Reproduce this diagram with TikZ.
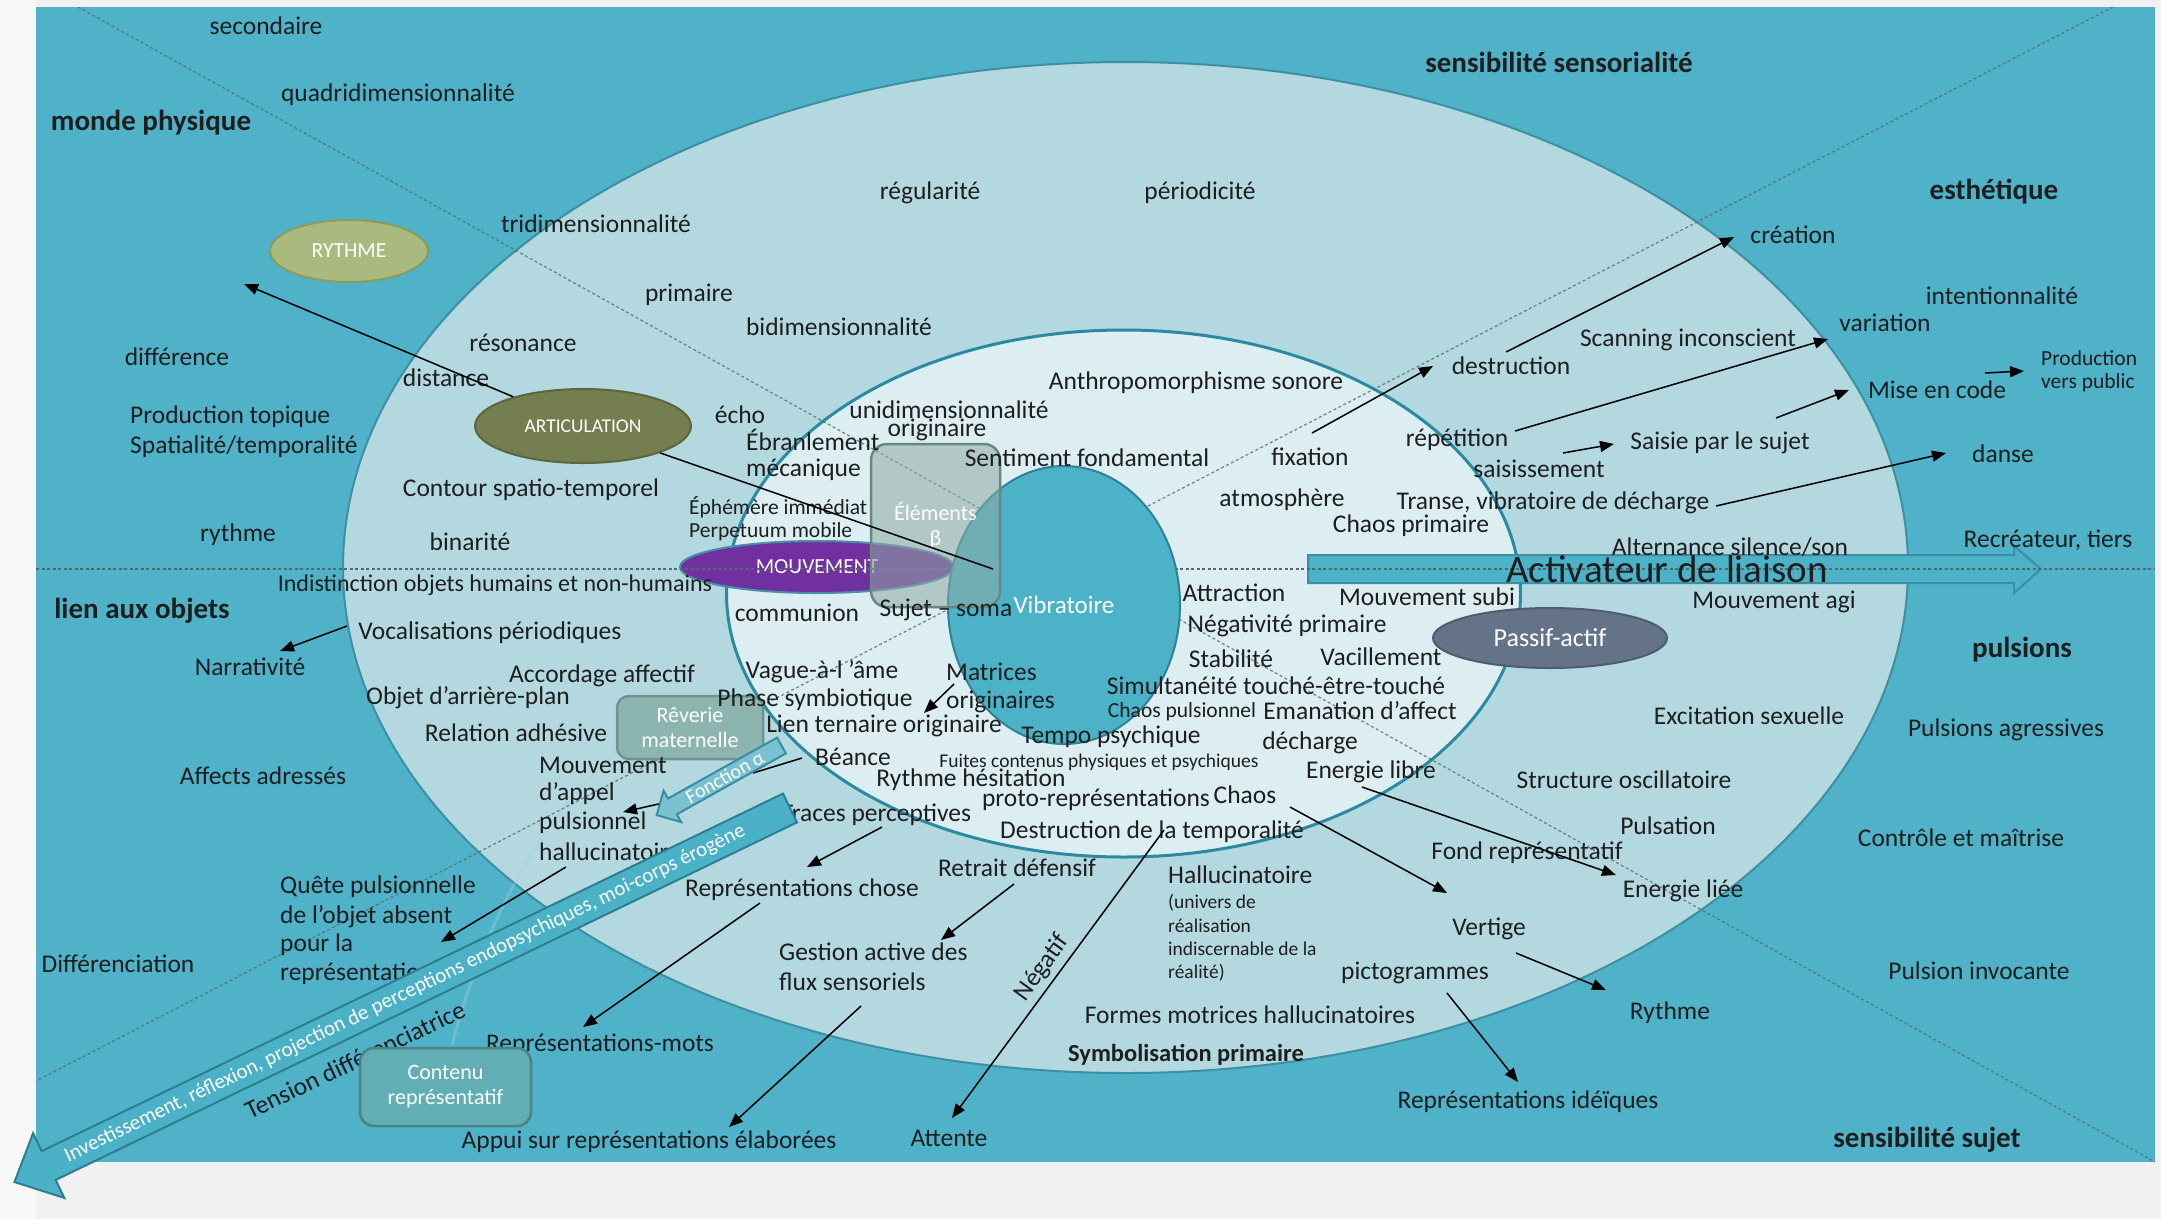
\documentclass[tikz,border=0pt]{standalone}
\usepackage{fontspec}
\setmainfont{Carlito}
\usetikzlibrary{arrows.meta,shapes.geometric}
\definecolor{pagegray}{HTML}{F1F1F1}
\definecolor{pagewhite}{HTML}{F8F8F8}
\definecolor{bgteal}{HTML}{4FB2C8}
\definecolor{outerfill}{HTML}{B3D8DF}
\definecolor{outerdraw}{HTML}{3D8FA2}
\definecolor{midfill}{HTML}{DCEEF2}
\definecolor{middraw}{HTML}{2C8AA0}
\definecolor{vibfill}{HTML}{4BB2C8}
\definecolor{vibdraw}{HTML}{2F8195}
\definecolor{txtc}{HTML}{1E1E1E}
\definecolor{guidec}{HTML}{55666C}
\definecolor{arcc}{HTML}{A6D2DA}
\definecolor{rythfill}{HTML}{AABA7E}
\definecolor{rythdraw}{HTML}{8C9A5B}
\definecolor{artfill}{HTML}{757E50}
\definecolor{artdraw}{HTML}{5D653E}
\definecolor{mouvfill}{HTML}{7030A0}
\definecolor{mouvdraw}{HTML}{4A8EA5}
\definecolor{pasfill}{HTML}{647387}
\definecolor{pasdraw}{HTML}{505C6D}
\definecolor{elemfill}{HTML}{8FAAA4}
\definecolor{elemdraw}{HTML}{6A8780}
\definecolor{revfill}{HTML}{8CB5AF}
\definecolor{revdraw}{HTML}{6D958F}
\definecolor{contfill}{HTML}{62AEB5}
\definecolor{contdraw}{HTML}{4E8182}
\definecolor{invfill}{HTML}{4BB1C7}
\definecolor{invdraw}{HTML}{2E7E92}
\definecolor{fonfill}{HTML}{7AC1D2}
\definecolor{fondraw}{HTML}{3A8DA1}
\definecolor{actfill}{HTML}{4BB2C8}
\definecolor{actdraw}{HTML}{3A8FA4}
\begin{document}
\begin{tikzpicture}[x=1pt,y=-1pt,
  every node/.style={inner sep=0pt,text=txtc},
  bodytxt/.style={font=\fontsize{25.5}{30}\selectfont},
  smalltxt/.style={font=\fontsize{21.5}{25}\selectfont},
  tinytxt/.style={font=\fontsize{19.5}{23}\selectfont},
  headtxt/.style={font=\fontsize{29}{34}\selectfont\bfseries},
  arr/.style={draw=black,line width=1.5pt,-{Triangle[length=14pt,width=11pt]}},
  plainline/.style={draw=black,line width=1.5pt},
  guide/.style={draw=guidec,line width=1.3pt,dash pattern=on 3pt off 2.5pt},
  blob/.style={ellipse,line width=2pt,text=white},
  boxnode/.style={rectangle,line width=2.5pt,text=white,align=center}]
\useasboundingbox (0,0) rectangle (2161,1219);
\fill[pagegray] (0,0) rectangle (2161,1219);
\fill[pagewhite] (0,0) rectangle (36,1219);
\fill[bgteal] (36,7) rectangle (2155,1162);
% big ellipses
\draw[outerdraw,fill=outerfill,line width=2pt] (1125.5,567.5) ellipse [x radius=782.5pt,y radius=505.5pt];
\draw[middraw,fill=midfill,line width=3pt] (1123.5,593.5) ellipse [x radius=397pt,y radius=263.5pt];
% faint arc
\draw[arcc,line width=3pt,opacity=0.35] (452,1045) .. controls (490,900) and (560,790) .. (640,735);
% mouvement and activateur
\node[blob,fill=mouvfill,draw=mouvdraw,minimum width=274pt,minimum height=52pt,font=\fontsize{21.5}{25}\selectfont] (mouv) at (817,567) {MOUVEMENT};
\filldraw[fill=actfill,draw=actdraw,line width=2pt] (1308,555) -- (2014,555) -- (2014,546) -- (2041,569) -- (2014,593) -- (2014,583) -- (1308,583) -- cycle;
% guide lines
\begin{scope}
\clip (36,7) rectangle (2155,1162);
\draw[guide] (36,569) -- (2155,569);
\draw[guide,opacity=0.75] (78,7) -- (2155,1162);
\draw[guide,opacity=0.75] (2113,7) -- (36,1081);
\end{scope}
% shapes
\node[blob,fill=vibfill,draw=vibdraw,minimum width=232pt,minimum height=278pt,font=\fontsize{25}{30}\selectfont] (vib) at (1064,605) {Vibratoire};
\node[blob,fill=rythfill,draw=rythdraw,minimum width=158pt,minimum height=62pt,font=\fontsize{21.5}{25}\selectfont] (ryth) at (349,251) {RYTHME};
\node[blob,fill=artfill,draw=artdraw,minimum width=216pt,minimum height=74pt,font=\fontsize{19.5}{23}\selectfont] (artic) at (583,426) {ARTICULATION};
\node[blob,fill=pasfill,draw=pasdraw,minimum width=234pt,minimum height=60pt,font=\fontsize{26}{30}\selectfont] (passif) at (1550,638) {Passif-actif};
\node[boxnode,rounded corners=16pt,fill=elemfill,fill opacity=0.55,text opacity=1,draw=elemdraw,minimum width=129pt,minimum height=163pt,font=\fontsize{22}{25}\selectfont] (elem) at (935.5,525.5) {Éléments\\β};
\node[boxnode,rounded corners=12pt,fill=revfill,draw=revdraw,minimum width=146pt,minimum height=63pt,font=\fontsize{22}{25}\selectfont] (reverie) at (690,727.5) {Rêverie\\maternelle};
% headers
\node[headtxt] (hmonde) at (151,123) {monde physique};
\node[headtxt] (hsens) at (1559,62) {sensibilité sensorialité};
\node[headtxt] (hesth) at (1994,192) {esthétique};
\node[headtxt] (hlien) at (142,611) {lien aux objets};
\node[headtxt] (hpuls) at (2022,650) {pulsions};
\node[headtxt] (hsujet) at (1927,1140) {sensibilité sujet};
% texts
\node[bodytxt] (secondaire) at (266,26) {secondaire};
\node[bodytxt] (quadri) at (398,95) {quadridimensionnalité};
\node[bodytxt] (tridi) at (596,224) {tridimensionnalité};
\node[bodytxt] (regul) at (930,193) {régularité};
\node[bodytxt] (period) at (1200,193) {périodicité};
\node[bodytxt] (primaire) at (689,295) {primaire};
\node[bodytxt] (bidi) at (839,327) {bidimensionnalité};
\node[bodytxt] (difference) at (177,357) {différence};
\node[bodytxt] (resonance) at (523,343) {résonance};
\node[bodytxt] (distance) at (446,378) {distance};
\node[bodytxt,anchor=west] (prodtop) at (130,417) {Production topique};
\node[bodytxt,anchor=west] (spatial) at (130,447) {Spatialité/temporalité};
\node[bodytxt] (echo) at (740,415) {écho};
\node[bodytxt] (unidim) at (949,410) {unidimensionnalité};
\node[bodytxt] (originaire) at (937,430) {originaire};
\node[bodytxt,anchor=west] (ebranl) at (746,440) {Ébranlement};
\node[bodytxt,anchor=west] (mecan) at (746,470) {mécanique};
\node[bodytxt] (anthropo) at (1196,383) {Anthropomorphisme sonore};
\node[bodytxt] (sentiment) at (1087,458) {Sentiment fondamental};
\node[bodytxt] (contour) at (531,490) {Contour spatio-temporel};
\node[smalltxt,anchor=west] (ephem) at (689,507) {Éphémère immédiat};
\node[smalltxt,anchor=west] (perpet) at (689,532) {Perpetuum mobile};
\node[bodytxt] (binarite) at (470,542) {binarité};
\node[bodytxt] (rythme) at (238,535) {rythme};
\node[font=\fontsize{24}{28}\selectfont] (indist) at (495,585) {Indistinction objets humains et non-humains};
\node[bodytxt] (communion) at (797,613) {communion};
\node[bodytxt] (sujetsoma) at (946,610) {Sujet – soma};
\node[bodytxt] (vocal) at (490,633) {Vocalisations périodiques};
\node[bodytxt] (narrat) at (250,667) {Narrativité};
\node[bodytxt] (accord) at (602,676) {Accordage affectif};
\node[bodytxt] (objet) at (468,698) {Objet d’arrière-plan};
\node[bodytxt] (relation) at (516,733) {Relation adhésive};
\node[bodytxt] (affects) at (263,776) {Affects adressés};
\node[bodytxt] (vague) at (822,672) {Vague-à-l ’âme};
\node[bodytxt,anchor=west] (matrices) at (946,672) {Matrices};
\node[bodytxt,anchor=west] (originaires) at (946,702) {originaires};
\node[bodytxt] (phase) at (815,700) {Phase symbiotique};
\node[bodytxt] (lien) at (884,726) {Lien ternaire originaire};
\node[bodytxt] (beance) at (853,757) {Béance};
\node[bodytxt,anchor=west] (mouvapp1) at (539,765) {Mouvement};
\node[bodytxt,anchor=west] (mouvapp2) at (539,794) {d’appel};
\node[bodytxt,anchor=west] (mouvapp3) at (539,823) {pulsionnel};
\node[bodytxt,anchor=west] (mouvapp4) at (539,852) {hallucinatoire};
\node[bodytxt] (traces) at (876,815) {Traces perceptives};
\node[bodytxt] (reprchose) at (802,890) {Représentations chose};
\node[bodytxt,anchor=west] (quete1) at (280,887) {Quête pulsionnelle};
\node[bodytxt,anchor=west] (quete2) at (280,917) {de l’objet absent};
\node[bodytxt,anchor=west] (quete3) at (280,945) {pour la};
\node[bodytxt,anchor=west] (quete4) at (280,974) {représentation};
\node[bodytxt] (differenc) at (118,964) {Différenciation};
\node[bodytxt,rotate=25.5] (tension) at (355,1060) {Tension différenciatrice};
\node[bodytxt] (reprmots) at (600,1045) {Représentations-mots};
\node[bodytxt] (appui) at (649,1142) {Appui sur représentations élaborées};
\node[bodytxt,anchor=west] (gestion1) at (779,952) {Gestion active des};
\node[bodytxt,anchor=west] (gestion2) at (779,982) {flux sensoriels};
\node[bodytxt] (retrait) at (1017,868) {Retrait défensif};
\node[bodytxt] (attente) at (949,1138) {Attente};
\node[bodytxt,rotate=54] (negatif) at (1042,968) {Négatif};
\node[font=\fontsize{24.5}{29}\selectfont\bfseries] (symbol) at (1186,1055) {Symbolisation primaire};
\node[bodytxt] (formes) at (1250,1015) {Formes motrices hallucinatoires};
\node[bodytxt,anchor=west] (halluc) at (1168,875) {Hallucinatoire};
\node[tinytxt,anchor=west] (hsub1) at (1168,903) {(univers de};
\node[tinytxt,anchor=west] (hsub2) at (1168,926) {réalisation};
\node[tinytxt,anchor=west] (hsub3) at (1168,949) {indiscernable de la};
\node[tinytxt,anchor=west] (hsub4) at (1168,973) {réalité)};
\node[bodytxt] (destrtemp) at (1152,832) {Destruction de la temporalité};
\node[bodytxt] (rythmehes) at (971,780) {Rythme hésitation};
\node[bodytxt] (proto) at (1096,800) {proto-représentations};
\node[bodytxt] (chaos) at (1245,795) {Chaos};
\node[tinytxt] (fuites) at (1099,762) {Fuites contenus physiques et psychiques};
\node[bodytxt] (tempo) at (1111,737) {Tempo psychique};
\node[smalltxt] (chaospuls) at (1182,712) {Chaos pulsionnel};
\node[bodytxt] (emanation) at (1360,711) {Emanation d’affect};
\node[bodytxt] (simult) at (1276,686) {Simultanéité touché-être-touché};
\node[bodytxt] (stabilite) at (1231,659) {Stabilité};
\node[bodytxt] (vacill) at (1381,657) {Vacillement};
\node[bodytxt] (attraction) at (1234,593) {Attraction};
\node[bodytxt] (negprim) at (1287,626) {Négativité primaire};
\node[bodytxt] (mouvsubi) at (1427,597) {Mouvement subi};
\node[bodytxt] (decharge) at (1310,743) {décharge};
\node[bodytxt] (enlibre) at (1371,772) {Energie libre};
\node[bodytxt] (fond) at (1527,853) {Fond représentatif};
\node[bodytxt] (enliee) at (1683,891) {Energie liée};
\node[bodytxt] (vertige) at (1489,929) {Vertige};
\node[bodytxt] (picto) at (1415,973) {pictogrammes};
\node[bodytxt] (rythme2) at (1670,1013) {Rythme};
\node[bodytxt] (reprid) at (1528,1102) {Représentations idéïques};
\node[bodytxt] (pulsinv) at (1979,971) {Pulsion invocante};
\node[bodytxt] (controle) at (1961,838) {Contrôle et maîtrise};
\node[bodytxt] (pulsation) at (1668,826) {Pulsation};
\node[bodytxt] (structure) at (1624,780) {Structure oscillatoire};
\node[bodytxt] (excitation) at (1749,716) {Excitation sexuelle};
\node[bodytxt] (pulsagr) at (2006,730) {Pulsions agressives};
\node[bodytxt] (mouvagi) at (1774,602) {Mouvement agi};
\node[bodytxt] (alternance) at (1730,547) {Alternance silence/son};
\node[font=\fontsize{39}{44}\selectfont] (activ) at (1667,569) {Activateur de liaison};
\node[bodytxt] (recreateur) at (2048,540) {Recréateur, tiers};
\node[bodytxt] (danse) at (2003,454) {danse};
\node[bodytxt] (transe) at (1553,503) {Transe, vibratoire de décharge};
\node[bodytxt] (chaosprim) at (1411,526) {Chaos primaire};
\node[bodytxt] (atmos) at (1282,500) {atmosphère};
\node[bodytxt] (fixation) at (1310,457) {fixation};
\node[bodytxt] (destruction) at (1511,366) {destruction};
\node[bodytxt] (creation) at (1793,235) {création};
\node[bodytxt] (intention) at (2002,296) {intentionnalité};
\node[bodytxt] (variation) at (1885,323) {variation};
\node[bodytxt] (scanning) at (1688,340) {Scanning inconscient};
\node[bodytxt] (repetition) at (1457,440) {répétition};
\node[bodytxt] (saisie) at (1720,443) {Saisie par le sujet};
\node[bodytxt] (saisissement) at (1539,469) {saisissement};
\node[bodytxt] (misecode) at (1937,390) {Mise en code};
\node[smalltxt,anchor=west] (prod1) at (2041,358) {Production};
\node[smalltxt,anchor=west] (prod2) at (2041,383) {vers public};
% connector end points
\coordinate (a1e) at (244,284);
\coordinate (a2e) at (993,569);
\coordinate (a3s) at (347,626); \coordinate (a3e) at (280,651);
\coordinate (a4s) at (954,684); \coordinate (a4e) at (924,713);
\coordinate (a5s) at (802,758); \coordinate (a5e) at (753,773);
\coordinate (a6s) at (663,803); \coordinate (a6e) at (623,812);
\coordinate (a7s) at (882,827); \coordinate (a7e) at (807,867);
\coordinate (a8s) at (566,867); \coordinate (a8e) at (441,942);
\coordinate (a9s) at (760,903); \coordinate (a9e) at (583,1027);
\coordinate (a10s) at (1014,884); \coordinate (a10e) at (941,940);
\coordinate (a11s) at (861,1006); \coordinate (a11e) at (729,1127);
\coordinate (a12s) at (1164,830); \coordinate (a12e) at (952,1118);
\coordinate (a13s) at (1362,787); \coordinate (a13e) at (1616,875);
\coordinate (a14s) at (1290,807); \coordinate (a14e) at (1447,893);
\coordinate (a15s) at (1516,953); \coordinate (a15e) at (1606,990);
\coordinate (a16s) at (1447,993); \coordinate (a16e) at (1518,1082);
\coordinate (a17s) at (1312,433); \coordinate (a17e) at (1433,366);
\coordinate (a18s) at (1506,352); \coordinate (a18e) at (1734,237);
\coordinate (a19s) at (1515,431); \coordinate (a19e) at (1828,339);
\coordinate (a20s) at (1563,453); \coordinate (a20e) at (1614,444);
\coordinate (a21s) at (1776,418); \coordinate (a21e) at (1849,390);
\coordinate (a22s) at (1985,373); \coordinate (a22e) at (2024,371);
\coordinate (a23s) at (1716,506); \coordinate (a23e) at (1946,453);
% connectors
\draw[arr] (artic) -- (a1e);
\draw[plainline] (artic) -- (a2e);
\draw[arr] (a3s) -- (a3e);
\draw[arr] (a4s) -- (a4e);
\draw[plainline] (a5s) -- (a5e);
\draw[arr] (a6s) -- (a6e);
\draw[arr] (a7s) -- (a7e);
\draw[arr] (a8s) -- (a8e);
\draw[arr] (a9s) -- (a9e);
\draw[arr] (a10s) -- (a10e);
\draw[arr] (a11s) -- (a11e);
\draw[arr] (a12s) -- (a12e);
\draw[arr] (a13s) -- (a13e);
\draw[arr] (a14s) -- (a14e);
\draw[arr] (a15s) -- (a15e);
\draw[arr] (a16s) -- (a16e);
\draw[arr] (a17s) -- (a17e);
\draw[arr] (a18s) -- (a18e);
\draw[arr] (a19s) -- (a19e);
\draw[arr] (a20s) -- (a20e);
\draw[arr] (a21s) -- (a21e);
\draw[arr] (a22s) -- (a22e);
\draw[arr] (a23s) -- (a23e);
% big arrow
\filldraw[fill=invfill,draw=invdraw,line width=2pt] (783.0,793.6) -- (797.0,822.4) -- (55.7,1179.9) -- (64.3,1197.9) -- (14.5,1182.0) -- (33.1,1133.1) -- (41.7,1151.1) -- cycle;
\node[rotate=25.75,text=white,font=\fontsize{21}{24}\selectfont] (invest) at (405,994) {Investissement, réflexion, projection de perceptions endopsychiques, moi-corps érogène};
% fonction alpha arrow
\filldraw[fill=fonfill,draw=fondraw,line width=2pt] (777.1,737.6) -- (785.9,753.4) -- (676.8,814.3) -- (681.2,822.1) -- (656.7,815.1) -- (663.6,790.7) -- (668.0,798.5) -- cycle;
\node[rotate=29.2,text=white,font=\fontsize{20}{24}\selectfont] (fonction) at (724.8,777.2) {Fonction α};
% contenu box
\node[boxnode,rounded corners=14pt,fill=contfill,draw=contdraw,minimum width=171pt,minimum height=78pt,font=\fontsize{22}{25}\selectfont] (contenu) at (445.5,1087) {Contenu\\représentatif};
\end{tikzpicture}
\end{document}
